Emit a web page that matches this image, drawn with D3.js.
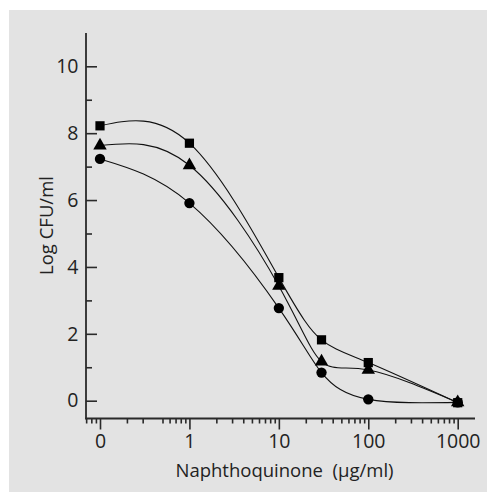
<!DOCTYPE html>
<html>
<head>
<meta charset="utf-8">
<script src="https://cdn.jsdelivr.net/npm/d3@7"></script>
<style>
  html, body { margin: 0; padding: 0; background: #ffffff; }
  svg { display: block; }
  text { font-family: "Open Sans", "DejaVu Sans", sans-serif; fill: #222; }
</style>
</head>
<body>
<svg id="chart" width="487" height="492"></svg>
<script>
// ---- data ----
const concentrations = [0.1, 1, 10, 30, 100, 1000];   // "0" plotted at 0.1 on log axis
const squareSeries   = [8.22, 7.70, 3.68, 1.82, 1.14, -0.06];
const triangleSeries = [7.63, 7.04, 3.43, 1.17, 0.92, -0.05];
const circleSeries   = [7.23, 5.91, 2.77, 0.84, 0.04, -0.05];
const xTickValues = [0.1, 1, 10, 100, 1000];
const xTickLabels = ["0", "1", "10", "100", "1000"];
const yTickValues = [0, 2, 4, 6, 8, 10];
const yMinorTicks = [1, 3, 5, 7, 9];
const xTitle = "Naphthoquinone  (\u00b5g/ml)";
const yTitle = "Log CFU/ml";

// ---- layout ----
const W = 487, H = 492;
const svg = d3.select("#chart");
svg.append("rect").attr("x", 9).attr("y", 10).attr("width", W - 9).attr("height", H - 10)
  .attr("fill", "#e3e3e3");

const axisX0 = 86, axisX1 = 475, axisY0 = 33, axisY1 = 418.5;
const x = d3.scaleLog().domain([0.1, 1000]).range([100, 457.7]);
const y = d3.scaleLinear().domain([0, 10]).range([400.7, 66.3]);

// minor x ticks (log decades, within axis extent)
const xMinor = [];
for (let e = -2; e <= 3; e++) {
  for (let m = 2; m <= 9; m++) {
    const v = m * Math.pow(10, e);
    if (e === -1 && m === 4) continue;
    const px = x(v);
    if (px >= axisX0 && px <= axisX1) xMinor.push(v);
  }
}

const axisColor = "#2a2a2a";
const tickFont = 19.5;

// x axis
const gx = svg.append("g").attr("transform", `translate(0,${axisY1})`);
gx.call(d3.axisBottom(x).tickValues(xMinor).tickSize(5).tickFormat(""));
gx.append("g").call(d3.axisBottom(x).tickValues(xTickValues).tickSize(11).tickPadding(5)
  .tickFormat((d, i) => xTickLabels[i]));
gx.selectAll(".domain").remove();
gx.selectAll("line").attr("stroke", axisColor).attr("stroke-width", 1.6);
gx.selectAll("text").attr("font-size", tickFont).attr("fill", "#222")
  .attr("font-family", '"Open Sans", sans-serif');
gx.append("line").attr("x1", axisX0 - 0.8).attr("x2", axisX1).attr("y1", 0).attr("y2", 0)
  .attr("stroke", axisColor).attr("stroke-width", 1.8);

// y axis
const gy = svg.append("g").attr("transform", `translate(${axisX0},0)`);
gy.call(d3.axisLeft(y).tickValues(yMinorTicks).tickSize(-6).tickFormat(""));
gy.append("g").call(d3.axisLeft(y).tickValues(yTickValues).tickSize(-11).tickPadding(7.5)
  .tickFormat(d3.format("d")));
gy.selectAll(".domain").remove();
gy.selectAll("line").attr("stroke", axisColor).attr("stroke-width", 1.6);
gy.selectAll("text").attr("font-size", tickFont).attr("fill", "#222")
  .attr("font-family", '"Open Sans", sans-serif');
gy.append("line").attr("x1", 0).attr("x2", 0).attr("y1", axisY0).attr("y2", axisY1 + 0.8)
  .attr("stroke", axisColor).attr("stroke-width", 1.8);

// titles
svg.append("text").attr("x", 284.5).attr("y", 476.5).attr("text-anchor", "middle")
  .attr("font-size", 18.5).attr("xml:space", "preserve").style("white-space", "pre").text(xTitle);
svg.append("text").attr("transform", "translate(53,225.5) rotate(-90)")
  .attr("text-anchor", "middle").attr("font-size", 18.5).text(yTitle);

// series (markers drawn in this order: squares, triangles, circles on top)
const series = [
  { values: squareSeries, symbol: d3.symbolSquare, size: 85 },
  { values: triangleSeries, symbol: d3.symbolTriangle, size: 78 },
  { values: circleSeries, symbol: d3.symbolCircle, size: 84 }
];
const line = d3.line().x(d => x(d[0])).y(d => y(d[1])).curve(d3.curveNatural);

series.forEach(s => {
  const pts = concentrations.map((c, i) => [c, s.values[i]]);
  svg.append("path").attr("d", line(pts)).attr("fill", "none")
    .attr("stroke", "#111").attr("stroke-width", 1.1);
});
series.forEach(s => {
  const pts = concentrations.map((c, i) => [c, s.values[i]]);
  svg.append("g").selectAll("path").data(pts).join("path")
    .attr("transform", d => `translate(${x(d[0])},${y(d[1])})`)
    .attr("d", d3.symbol(s.symbol, s.size)).attr("fill", "#000");
});
</script>
</body>
</html>
